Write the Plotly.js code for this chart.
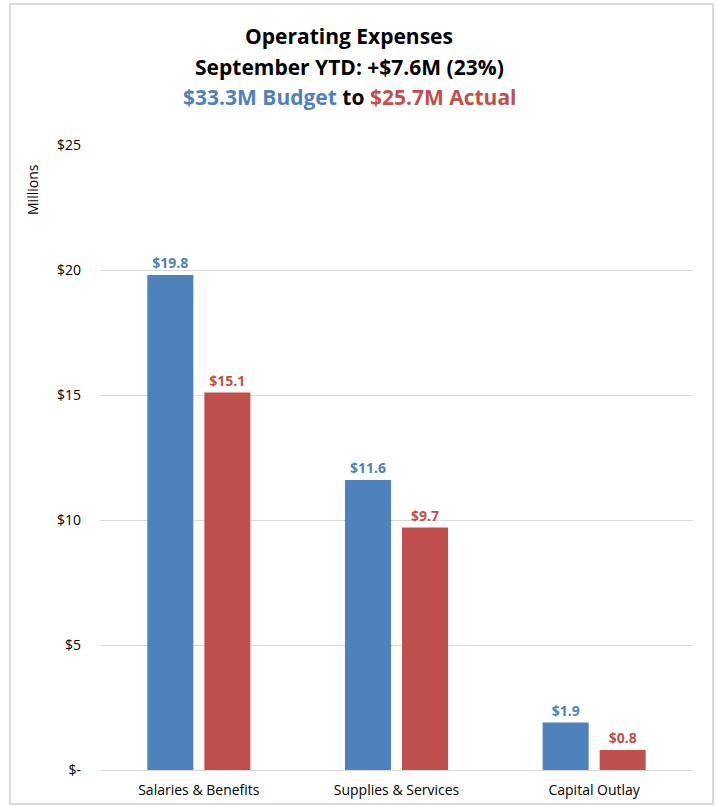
<!DOCTYPE html>
<html>
<head>
<meta charset="utf-8">
<script src="https://cdn.plot.ly/plotly-3.0.1.min.js"></script>
<style>
  html, body { margin: 0; padding: 0; background: #fff; }
  #chart { width: 718px; height: 806px; }
</style>
</head>
<body>
<div id="chart"></div>
<script>
const categories = ['Salaries & Benefits', 'Supplies & Services', 'Capital Outlay'];
const budget = [19.8, 11.6, 1.9];
const actual = [15.1, 9.7, 0.8];
const tickVals = [0, 5, 10, 15, 20, 25];
const tickText = ['$-', '$5', '$10', '$15', '$20', '$25'];
const titleLines = [
    'Operating Expenses',
    'September YTD: +$7.6M (23%)',
    '<span style="color:#4F81BD">$33.3M Budget</span> to <span style="color:#C0504D">$25.7M Actual</span>'
];

const blue = '#4F81BD';
const red = '#C0504D';
const font = 'Open Sans, Liberation Sans, sans-serif';

const money = v => '$' + v.toFixed(1);

// plot area in pixels: x 100..693, y 145..770
const px = x => (x - 100) / 593;
const py = y => (770 - y) / 625;

const budgetTrace = {
    x: categories,
    y: budget,
    type: 'bar',
    name: 'Budget',
    marker: { color: blue },
    text: budget.map(money),
    textposition: 'outside',
    textfont: { family: font, size: 14, color: blue, weight: 'bold' },
    cliponaxis: false,
    hoverinfo: 'skip'
};

const actualTrace = {
    x: categories,
    y: actual,
    type: 'bar',
    name: 'Actual',
    marker: { color: red },
    text: actual.map(money),
    textposition: 'outside',
    textfont: { family: font, size: 14, color: red, weight: 'bold' },
    cliponaxis: false,
    hoverinfo: 'skip'
};

const titleAnnotations = titleLines.map((t, i) => ({
    text: t,
    xref: 'paper',
    yref: 'paper',
    x: px(349),
    y: py(36 + i * 30.5),
    xanchor: 'center',
    yanchor: 'middle',
    showarrow: false,
    font: { family: font, size: 21, color: '#000', weight: 'bold' }
}));

const layout = {
    width: 718,
    height: 806,
    margin: { l: 100, r: 25, t: 145, b: 36 },
    paper_bgcolor: '#fff',
    plot_bgcolor: '#fff',
    showlegend: false,
    barmode: 'group',
    bargap: 0.423,
    bargroupgap: 0.193,
    font: { family: font, color: '#000' },
    xaxis: {
        showgrid: false,
        showline: false,
        ticks: '',
        ticklabelstandoff: 10,
        tickfont: { family: font, size: 14, color: '#000' }
    },
    yaxis: {
        range: [0, 25],
        tickvals: tickVals,
        ticktext: tickText,
        showgrid: true,
        gridcolor: '#d9d9d9',
        gridwidth: 1,
        zeroline: true,
        zerolinecolor: '#d9d9d9',
        zerolinewidth: 1,
        showline: false,
        ticks: '',
        ticklabelstandoff: 18,
        tickfont: { family: font, size: 14, color: '#000' }
    },
    annotations: titleAnnotations.concat([{
        text: 'Millions',
        textangle: -90,
        xref: 'paper',
        yref: 'paper',
        x: px(33),
        y: py(190),
        xanchor: 'center',
        yanchor: 'middle',
        showarrow: false,
        font: { family: font, size: 14, color: '#000' }
    }]),
    shapes: [{
        type: 'rect',
        xref: 'paper',
        yref: 'paper',
        x0: px(10),
        x1: px(713),
        y0: py(804),
        y1: py(4),
        line: { color: '#d9d9d9', width: 2 },
        fillcolor: 'rgba(0,0,0,0)',
        layer: 'below'
    }]
};

Plotly.newPlot('chart', [budgetTrace, actualTrace], layout, { displayModeBar: false, staticPlot: true });
</script>
</body>
</html>
